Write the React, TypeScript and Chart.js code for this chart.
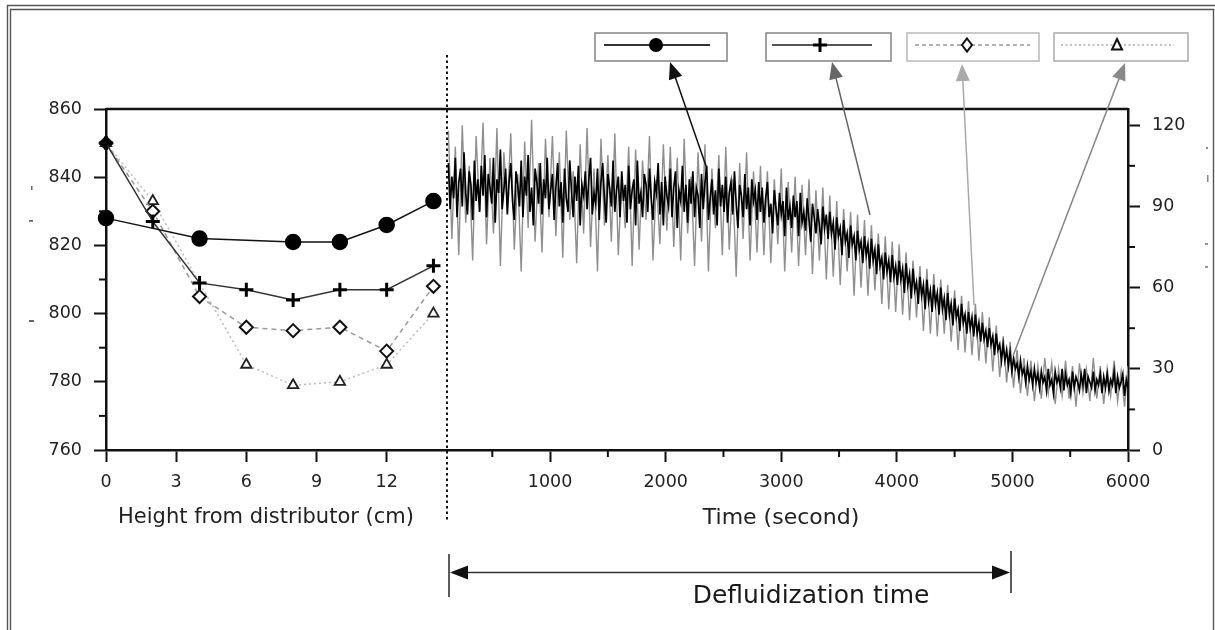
import { useEffect, useRef } from 'react';
import { Chart, registerables } from 'chart.js';

Chart.register(...registerables);

// ---------- Left panel: temperature profile vs height ----------
const HEIGHTS = [0, 2, 4, 6, 8, 10, 12, 14];
const SERIES_CIRCLE = [828, null, 822, null, 821, 821, 826, 833];
const SERIES_PLUS = [850, 827, 809, 807, 804, 807, 807, 814];
const SERIES_DIAMOND = [850, 830, 805, 796, 795, 796, 789, 808];
const SERIES_TRIANGLE = [850, 833, null, 785, 779, 780, 785, 800];

const LEFT_X_TICKS = [0, 3, 6, 9, 12];
const LEFT_Y_TICKS = [760, 780, 800, 820, 840, 860];
const LEFT_Y_MINOR = [770, 790, 810, 830, 850];

// ---------- Right panel: pressure-drop signal vs time ----------
const TIME_START = 120;
const BLACK_STEP = 15;
const GRAY_STEP = 30;
const SIGNAL_BLACK = [
  106, 89, 101, 93, 108, 86, 99, 104, 90, 110, 95, 87, 103, 98, 85, 107, 92, 100, 88, 105,
  94, 109, 86, 102, 97, 91, 108, 84, 100, 95, 111, 89, 96, 104, 87, 99, 106, 92, 85, 103,
  98, 90, 107, 86, 101, 94, 109, 88, 97, 83, 104, 99, 91, 106, 87, 100, 93, 108, 89, 96,
  102, 85, 97, 106, 90, 99, 84, 104, 93, 88, 107, 96, 86, 101, 92, 105, 83, 98, 94, 103,
  89, 100, 108, 87, 95, 91, 104, 85, 99, 106, 93, 84, 102, 97, 90, 107, 88, 96, 101, 86,
  103, 92, 98, 84, 105, 89, 96, 100, 83, 107, 91, 95, 86, 102, 98, 88, 104, 93, 85, 99,
  95, 106, 87, 99, 83, 101, 94, 90, 104, 86, 97, 103, 82, 96, 92, 105, 88, 98, 84, 100,
  91, 103, 86, 97, 94, 82, 102, 89, 99, 105, 85, 93, 100, 87, 96, 83, 104, 90, 98, 88,
  101, 84, 95, 99, 87, 103, 91, 82, 98, 94, 86, 102, 89, 97, 83, 100, 92, 96, 85, 99,
  88, 97, 84, 93, 99, 86, 91, 80, 96, 89, 83, 95, 87, 92, 79, 97, 85, 90, 82, 94,
  86, 92, 79, 95, 84, 88, 81, 93, 85, 77, 91, 86, 80, 89, 83, 76, 90, 82, 87, 78,
  88, 80, 84, 74, 86, 79, 82, 72, 85, 77, 80, 71, 83, 76, 79, 70, 81, 74, 77, 69,
  79, 72, 76, 67, 78, 70, 74, 65, 76, 68, 71, 63, 73, 66, 70, 62, 72, 64, 68, 61,
  70, 63, 67, 58, 69, 61, 65, 56, 67, 59, 62, 54, 64, 57, 61, 52, 63, 55, 59, 51,
  61, 54, 58, 50, 60, 52, 56, 48, 58, 50, 54, 46, 56, 49, 52, 44, 54, 47, 50, 43,
  51, 45, 49, 42, 50, 43, 47, 40, 47, 41, 44, 38, 45, 39, 42, 35, 43, 37, 39, 33,
  39, 33, 37, 31, 36, 29, 34, 30, 32, 27, 33, 28, 30, 25, 31, 26, 29, 24, 30, 25,
  28, 23, 29, 25, 27, 22, 30, 24, 26, 21, 29, 25, 27, 23, 30, 22, 28, 24, 26, 21,
  29, 23, 27, 25, 22, 28, 24, 30, 21, 27, 25, 23, 29, 22, 26, 24, 28, 21, 27, 23,
  28, 22, 26, 24, 29, 21, 27, 23, 25, 28, 20, 26, 23,
];
const SIGNAL_GRAY = [
  118, 78, 112, 72, 120, 84, 105, 70, 116, 88, 121, 76, 108, 80, 119, 68, 110, 90, 117, 74,
  102, 66, 114, 82, 122, 77, 106, 73, 115, 86,
  116, 79, 110, 71, 118, 85, 103, 69, 113, 80, 119, 75, 104, 66, 115, 83, 109, 77, 117, 72,
  101, 82, 112, 68, 111, 74, 107, 85, 116, 70, 100, 76, 113, 81,
  112, 75, 108, 70, 115, 80, 101, 68, 110, 77, 113, 66, 104, 82, 109, 72, 112, 74, 100, 64,
  106, 78, 110, 70, 103, 73,
  105, 72, 103, 69, 100, 76, 104, 66, 99, 73,
  101, 68, 98, 72, 100, 65, 96, 70, 97, 63,
  94, 64, 92, 61, 89, 66, 88, 57, 87, 60,
  85, 57, 83, 59, 80, 54, 79, 52, 77, 51,
  76, 50, 73, 48, 70, 49, 68, 44, 67, 43,
  65, 42, 63, 43, 61, 40, 59, 37, 57, 36,
  55, 35, 54, 33, 51, 32, 49, 29, 46, 27,
  42, 25, 40, 23, 37, 21, 34,
  20, 33, 18, 31, 19, 34, 21, 32, 17, 30, 20, 33, 19, 31, 16, 32, 21, 30, 18, 34,
  19, 31, 17, 30, 20, 33, 18, 29, 16, 31,
];
const TIME_TICKS = [1000, 2000, 3000, 4000, 5000, 6000];
const TIME_MINOR = [500, 1500, 2500, 3500, 4500, 5500];
const RIGHT_Y_TICKS = [0, 30, 60, 90, 120];
const RIGHT_Y_MINOR = [15, 45, 75, 105];

// ---------- Text ----------
const LEFT_X_TITLE = 'Height from distributor (cm)';
const RIGHT_X_TITLE = 'Time (second)';
const SPAN_LABEL = 'Defluidization time';

const FONT = '"DejaVu Sans", "Liberation Sans", Arial, sans-serif';

function axis(ticks: number[], dim: 'w' | 'h', size: number, pad: number) {
  return {
    afterBuildTicks: (s: any) => {
      s.ticks = ticks.map((v) => ({ value: v }));
    },
    afterFit: (s: any) => {
      if (dim === 'w') s.width = size;
      else s.height = size;
    },
    grid: {
      drawOnChartArea: false,
      drawTicks: true,
      tickLength: 12,
      tickWidth: 2,
      tickColor: '#111',
    },
    border: { display: true, color: '#111', width: 2.5 },
    ticks: {
      color: '#222',
      font: { family: FONT, size: 17.5 },
      padding: pad,
      autoSkip: false,
      maxRotation: 0,
      minRotation: 0,
      callback: (v: any) => String(v),
    },
  };
}

function minorAndTop(id: string, xMinor: number[], yMinor: number[], side: 'left' | 'right') {
  return {
    id,
    afterDraw(chart: any) {
      const { ctx, chartArea: ca, scales } = chart;
      ctx.save();
      ctx.strokeStyle = '#111';
      ctx.lineWidth = 2;
      xMinor.forEach((v) => {
        const px = scales.x.getPixelForValue(v);
        ctx.beginPath();
        ctx.moveTo(px, ca.bottom);
        ctx.lineTo(px, ca.bottom + 7);
        ctx.stroke();
      });
      yMinor.forEach((v) => {
        const py = scales.y.getPixelForValue(v);
        const x0 = side === 'left' ? ca.left : ca.right;
        const dx = side === 'left' ? -7 : 7;
        ctx.beginPath();
        ctx.moveTo(x0, py);
        ctx.lineTo(x0 + dx, py);
        ctx.stroke();
      });
      ctx.lineWidth = 2.5;
      ctx.beginPath();
      ctx.moveTo(ca.left, ca.top);
      ctx.lineTo(ca.right, ca.top);
      ctx.stroke();
      ctx.restore();
    },
  };
}

function drawArrow(ctx: any, x0: number, y0: number, x1: number, y1: number, color: string) {
  const ang = Math.atan2(y1 - y0, x1 - x0);
  const hl = 17;
  const hw = 7;
  ctx.strokeStyle = color;
  ctx.fillStyle = color;
  ctx.lineWidth = 1.5;
  ctx.beginPath();
  ctx.moveTo(x0, y0);
  ctx.lineTo(x1 - Math.cos(ang) * hl * 0.7, y1 - Math.sin(ang) * hl * 0.7);
  ctx.stroke();
  const bx = x1 - Math.cos(ang) * hl;
  const by = y1 - Math.sin(ang) * hl;
  ctx.beginPath();
  ctx.moveTo(x1, y1);
  ctx.lineTo(bx + Math.sin(ang) * hw, by - Math.cos(ang) * hw);
  ctx.lineTo(bx - Math.sin(ang) * hw, by + Math.cos(ang) * hw);
  ctx.closePath();
  ctx.fill();
}

const figureDecor = {
  id: 'figureDecor',
  afterDraw(chart: any) {
    const ctx = chart.ctx;
    ctx.save();

    // outer frame
    ctx.strokeStyle = '#555';
    ctx.lineWidth = 1.4;
    ctx.beginPath();
    ctx.moveTo(7.5, 630);
    ctx.lineTo(7.5, 5.5);
    ctx.lineTo(1215, 5.5);
    ctx.stroke();
    ctx.beginPath();
    ctx.moveTo(10.5, 630);
    ctx.lineTo(10.5, 9.5);
    ctx.lineTo(1213.5, 9.5);
    ctx.lineTo(1213.5, 630);
    ctx.stroke();

    // dotted divider
    ctx.strokeStyle = '#111';
    ctx.lineWidth = 2;
    ctx.setLineDash([2.5, 3]);
    ctx.beginPath();
    ctx.moveTo(447, 55);
    ctx.lineTo(447, 520);
    ctx.stroke();
    ctx.setLineDash([]);

    // legend boxes
    const boxes = [
      { x0: 595, x1: 727, border: '#8a8a8a' },
      { x0: 766, x1: 891, border: '#8a8a8a' },
      { x0: 907, x1: 1039, border: '#bdbdbd' },
      { x0: 1054, x1: 1188, border: '#b0b0b0' },
    ];
    boxes.forEach((b) => {
      ctx.strokeStyle = b.border;
      ctx.lineWidth = 1.6;
      ctx.strokeRect(b.x0, 33, b.x1 - b.x0, 28);
    });
    const ly = 45;
    // box 1: solid line + filled circle
    ctx.strokeStyle = '#333';
    ctx.lineWidth = 2;
    ctx.beginPath();
    ctx.moveTo(604, ly);
    ctx.lineTo(710, ly);
    ctx.stroke();
    ctx.fillStyle = '#000';
    ctx.beginPath();
    ctx.arc(656, ly, 7, 0, Math.PI * 2);
    ctx.fill();
    // box 2: solid line + plus
    ctx.strokeStyle = '#555';
    ctx.lineWidth = 2;
    ctx.beginPath();
    ctx.moveTo(772, ly);
    ctx.lineTo(872, ly);
    ctx.stroke();
    ctx.strokeStyle = '#000';
    ctx.lineWidth = 3;
    ctx.beginPath();
    ctx.moveTo(820, ly - 7);
    ctx.lineTo(820, ly + 7);
    ctx.moveTo(813, ly);
    ctx.lineTo(827, ly);
    ctx.stroke();
    // box 3: dashed line + diamond
    ctx.strokeStyle = '#999';
    ctx.lineWidth = 1.6;
    ctx.setLineDash([4, 3]);
    ctx.beginPath();
    ctx.moveTo(915, ly);
    ctx.lineTo(1030, ly);
    ctx.stroke();
    ctx.setLineDash([]);
    ctx.fillStyle = '#fff';
    ctx.strokeStyle = '#111';
    ctx.lineWidth = 2;
    ctx.beginPath();
    ctx.moveTo(967, ly - 6.5);
    ctx.lineTo(972, ly);
    ctx.lineTo(967, ly + 6.5);
    ctx.lineTo(962, ly);
    ctx.closePath();
    ctx.fill();
    ctx.stroke();
    // box 4: dotted line + triangle
    ctx.strokeStyle = '#aaa';
    ctx.lineWidth = 1.6;
    ctx.setLineDash([2, 2.5]);
    ctx.beginPath();
    ctx.moveTo(1061, ly);
    ctx.lineTo(1174, ly);
    ctx.stroke();
    ctx.setLineDash([]);
    ctx.fillStyle = '#fff';
    ctx.strokeStyle = '#111';
    ctx.lineWidth = 2;
    ctx.beginPath();
    ctx.moveTo(1117, ly - 6);
    ctx.lineTo(1122, ly + 4.5);
    ctx.lineTo(1112, ly + 4.5);
    ctx.closePath();
    ctx.fill();
    ctx.stroke();

    // arrows from trace to legend boxes
    drawArrow(ctx, 706, 166, 670, 62, '#111');
    drawArrow(ctx, 870, 215, 832, 62, '#666');
    drawArrow(ctx, 974, 305, 962, 64, '#aaa');
    drawArrow(ctx, 1013, 356, 1125, 63, '#888');

    // defluidization span
    ctx.strokeStyle = '#333';
    ctx.fillStyle = '#111';
    ctx.lineWidth = 1.6;
    ctx.beginPath();
    ctx.moveTo(449, 554);
    ctx.lineTo(449, 597);
    ctx.moveTo(1011, 551);
    ctx.lineTo(1011, 593);
    ctx.moveTo(460, 572.5);
    ctx.lineTo(1000, 572.5);
    ctx.stroke();
    ctx.beginPath();
    ctx.moveTo(450, 572.5);
    ctx.lineTo(468, 565.5);
    ctx.lineTo(468, 579.5);
    ctx.closePath();
    ctx.fill();
    ctx.beginPath();
    ctx.moveTo(1010, 572.5);
    ctx.lineTo(992, 565.5);
    ctx.lineTo(992, 579.5);
    ctx.closePath();
    ctx.fill();

    // texts
    ctx.fillStyle = '#222';
    ctx.textAlign = 'center';
    ctx.textBaseline = 'middle';
    ctx.font = `21px ${FONT}`;
    ctx.fillText(LEFT_X_TITLE, 266, 518);
    ctx.font = `22px ${FONT}`;
    ctx.fillText(RIGHT_X_TITLE, 781, 518);
    ctx.font = `25px ${FONT}`;
    ctx.fillStyle = '#1a1a1a';
    ctx.fillText(SPAN_LABEL, 811, 596);

    // faint remnants at the page edges
    ctx.fillStyle = '#666';
    ctx.fillRect(31, 186, 1.5, 4);
    ctx.fillRect(29, 220, 4, 1.8);
    ctx.fillRect(29, 320, 5, 2);
    ctx.fillStyle = '#888';
    ctx.fillRect(1206, 147, 2, 2);
    ctx.fillRect(1207, 175, 1.5, 7);
    ctx.fillRect(1205, 243, 3, 1.8);
    ctx.fillRect(1205, 266, 3, 1.8);

    ctx.restore();
  },
};

export default function App() {
  const leftRef = useRef<HTMLCanvasElement | null>(null);
  const rightRef = useRef<HTMLCanvasElement | null>(null);

  useEffect(() => {
    if (!leftRef.current || !rightRef.current) return;

    const pts = (vals: (number | null)[]) => HEIGHTS.map((h, i) => ({ x: h, y: vals[i] }));
    const sig = (vals: number[], step: number) =>
      vals.map((v, i) => ({ x: TIME_START + i * step, y: v }));

    const rightChart = new Chart(rightRef.current, {
      type: 'line',
      data: {
        datasets: [
          {
            label: 'signal',
            data: sig(SIGNAL_BLACK, BLACK_STEP),
            borderColor: '#000',
            borderWidth: 1.7,
            pointRadius: 0,
            tension: 0,
          },
          {
            label: 'signal (envelope)',
            data: sig(SIGNAL_GRAY, GRAY_STEP),
            borderColor: '#8f8f8f',
            borderWidth: 1.4,
            pointRadius: 0,
            tension: 0,
          },
        ],
      },
      options: {
        responsive: false,
        animation: false,
        devicePixelRatio: 1,
        events: [],
        layout: { padding: { left: 447, top: 109, right: 0, bottom: 0 } },
        plugins: { legend: { display: false }, tooltip: { enabled: false } },
        scales: {
          x: { type: 'linear', min: 108, max: 6000, ...axis(TIME_TICKS, 'h', 180, 10) },
          y: { type: 'linear', position: 'right', min: 0, max: 126, ...axis(RIGHT_Y_TICKS, 'w', 87, 12) },
        },
      } as any,
      plugins: [minorAndTop('rightMinor', TIME_MINOR, RIGHT_Y_MINOR, 'right'), figureDecor],
    });

    const leftChart = new Chart(leftRef.current, {
      type: 'line',
      data: {
        datasets: [
          {
            label: 'circle',
            data: pts(SERIES_CIRCLE),
            borderColor: '#111',
            borderWidth: 1.5,
            pointStyle: 'circle',
            pointRadius: 7.5,
            pointBackgroundColor: '#000',
            pointBorderColor: '#000',
            spanGaps: true,
            clip: false,
          },
          {
            label: 'plus',
            data: pts(SERIES_PLUS),
            borderColor: '#333',
            borderWidth: 1.5,
            pointStyle: 'cross',
            pointRadius: 7,
            pointBorderWidth: 3,
            pointBorderColor: '#000',
            spanGaps: true,
            clip: false,
          },
          {
            label: 'diamond',
            data: pts(SERIES_DIAMOND),
            borderColor: '#999',
            borderWidth: 1.5,
            borderDash: [5, 4],
            pointStyle: 'rectRot',
            pointRadius: 6.5,
            pointBorderWidth: 2,
            pointBorderColor: '#111',
            pointBackgroundColor: (c: any) => (c.dataIndex === 0 ? '#000' : '#fff'),
            spanGaps: true,
            clip: false,
          },
          {
            label: 'triangle',
            data: pts(SERIES_TRIANGLE),
            borderColor: '#bbb',
            borderWidth: 1.5,
            borderDash: [2, 3],
            pointStyle: 'triangle',
            pointRadius: 6,
            pointBorderWidth: 1.8,
            pointBorderColor: '#222',
            pointBackgroundColor: '#fff',
            spanGaps: true,
            clip: false,
          },
        ],
      },
      options: {
        responsive: false,
        animation: false,
        devicePixelRatio: 1,
        events: [],
        layout: { padding: { left: 0, top: 109, right: 768, bottom: 0 } },
        plugins: { legend: { display: false }, tooltip: { enabled: false } },
        scales: {
          x: { type: 'linear', min: 0, max: 14.58, ...axis(LEFT_X_TICKS, 'h', 180, 10) },
          y: { type: 'linear', position: 'left', min: 760, max: 860, ...axis(LEFT_Y_TICKS, 'w', 106, 12) },
        },
      } as any,
      plugins: [minorAndTop('leftMinor', [], LEFT_Y_MINOR, 'left')],
    });

    return () => {
      leftChart.destroy();
      rightChart.destroy();
    };
  }, []);

  return (
    <div style={{ position: 'fixed', left: 0, top: 0, width: 1215, height: 630, background: '#fff' }}>
      <canvas ref={rightRef} width={1215} height={630} style={{ position: 'absolute', left: 0, top: 0, width: 1215, height: 630 }} />
      <canvas ref={leftRef} width={1215} height={630} style={{ position: 'absolute', left: 0, top: 0, width: 1215, height: 630 }} />
    </div>
  );
}
